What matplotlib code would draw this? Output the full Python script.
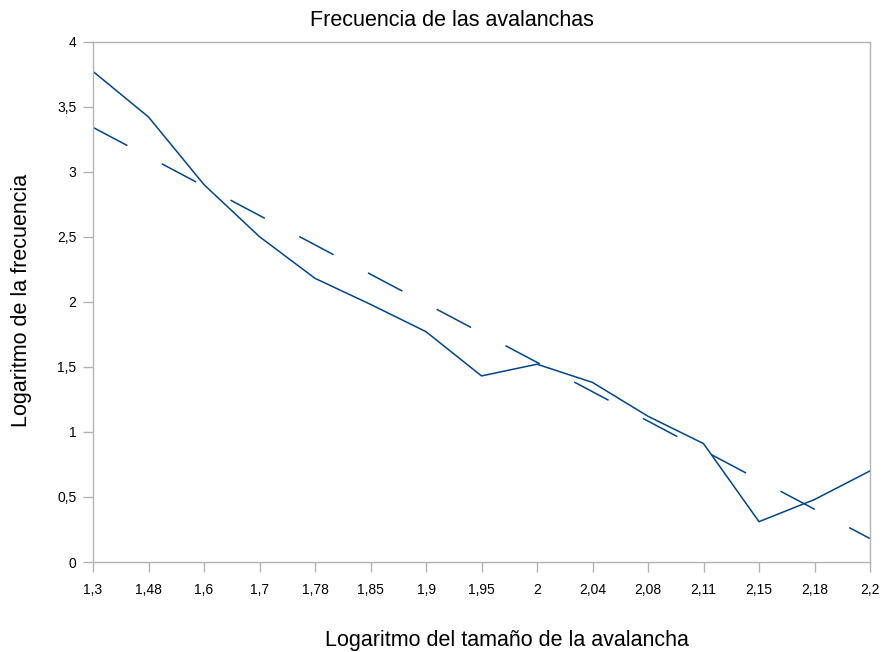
import matplotlib
matplotlib.use("Agg")
import matplotlib.pyplot as plt
import numpy as np

plt.rcParams['font.family'] = ['Liberation Sans', 'DejaVu Sans']
plt.rcParams['lines.scale_dashes'] = False

categories = ["1,3", "1,48", "1,6", "1,7", "1,78", "1,85", "1,9", "1,95",
              "2", "2,04", "2,08", "2,11", "2,15", "2,18", "2,2"]
log_freq = [3.77, 3.42, 2.90, 2.50, 2.18, 1.98, 1.77, 1.43,
            1.52, 1.38, 1.12, 0.91, 0.31, 0.48, 0.70]
trend_ends = [3.34, 0.18]
y_ticks = [0, 0.5, 1, 1.5, 2, 2.5, 3, 3.5, 4]
y_tick_labels = ["0", "0,5", "1", "1,5", "2", "2,5", "3", "3,5", "4"]

fig = plt.figure(figsize=(8.85, 6.52), dpi=100)
ax = fig.add_axes([93/885, 1 - 562/652, (870-93)/885, (562-41.5)/652])

x = np.arange(len(categories))
color = '#004586'
ax.plot(x, log_freq, color=color, lw=1.1)
ax.plot([x[0], x[-1]], trend_ends, color=color, lw=1.1,
        linestyle=(0, (28, 28)))

ax.set_xlim(0, len(categories) - 1)
ax.set_ylim(0, 4)
ax.set_xticks(x)
ax.set_xticklabels(categories, fontsize=10)
ax.set_yticks(y_ticks)
ax.set_yticklabels(y_tick_labels, fontsize=10)

for s in ax.spines.values():
    s.set_color('#b3b3b3')
    s.set_linewidth(1)
ax.tick_params(axis='both', direction='out', length=7, color='#b3b3b3',
               width=1, labelcolor='black')
ax.tick_params(axis='x', pad=8)
ax.tick_params(axis='y', pad=5)

fig.text(452/885, 1 - 20/652, "Frecuencia de las avalanchas",
         ha='center', va='center', fontsize=15.5)
fig.text(507/885, 1 - 646/652, "Logaritmo del tamaño de la avalancha",
         ha='center', va='baseline', fontsize=15.5)
fig.text(22/885, 1 - 300/652, "Logaritmo de la frecuencia",
         ha='center', va='center', rotation=90, fontsize=15.5)

fig.savefig("out.png", dpi=100)
